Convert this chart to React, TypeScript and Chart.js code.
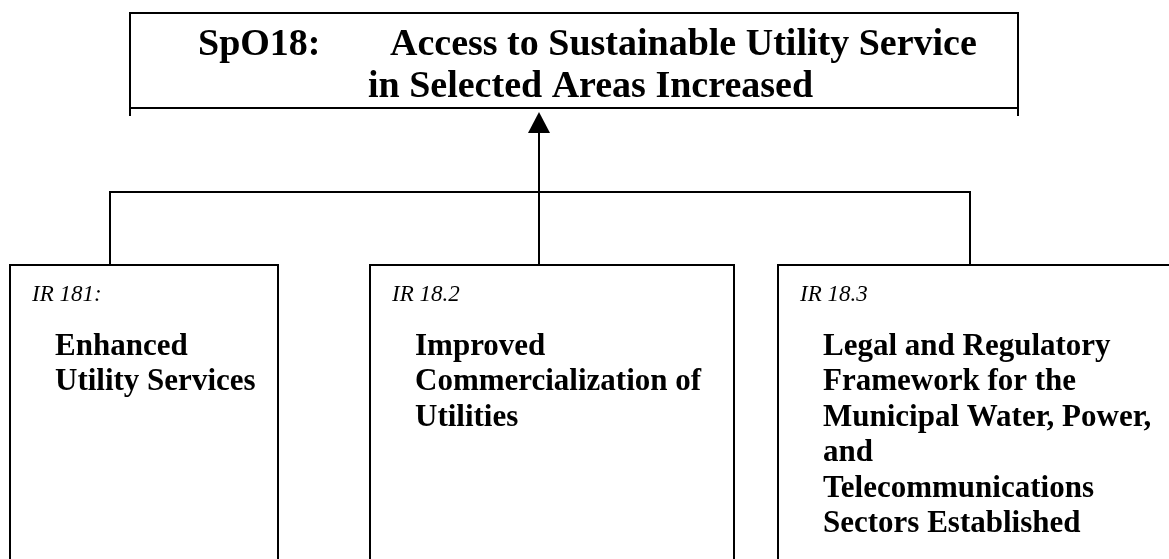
import React, { useEffect, useRef } from "react";
import { Chart, registerables } from "chart.js";

Chart.register(...registerables);

// ---- content ----
const titleCode = "SpO18:";
const titleLines = ["Access to Sustainable Utility Service", "in Selected Areas Increased"];
const irCodes = ["IR 181:", "IR 18.2", "IR 18.3"];
const irTitles = [
  ["Enhanced", "Utility Services"],
  ["Improved", "Commercialization of", "Utilities"],
  [
    "Legal and Regulatory",
    "Framework for the",
    "Municipal Water, Power,",
    "and",
    "Telecommunications",
    "Sectors Established",
  ],
];

// ---- layout (diagram units, mapped through the chart scales) ----
const W = 1169;
const H = 559;
const topBox = { l: 130, r: 1018, t: 13, b: 108, tail: 116 };
const titleCodeX = 198;
const titleLineX = [390, 368];
const titleBase = [55, 97];
const boxLeft = [10, 370, 778];
const boxRight = [278, 734, 1190];
const boxTop = 265;
const boxBottom = 620;
const codeOffset = 22;
const codeBase = 301;
const textOffset = 45;
const textBase = 355;
const lineStep = 35.4;
const busY = 192;
const dropX = [110, 970];
const arrowX = 539;
const arrowTip = 112;
const arrowBase = 133;
const arrowHalf = 11;

const SERIF = "'Liberation Serif', 'Times New Roman', serif";

const connectorSets = [
  [{ x: dropX[0], y: boxTop }, { x: dropX[0], y: busY }, { x: dropX[1], y: busY }, { x: dropX[1], y: boxTop }],
  [{ x: arrowX, y: boxTop }, { x: arrowX, y: arrowBase }],
];

const diagramPlugin = {
  id: "diagram",
  beforeDraw(chart: any) {
    const ctx = chart.ctx;
    ctx.save();
    ctx.fillStyle = "#ffffff";
    ctx.fillRect(0, 0, chart.width, chart.height);
    ctx.restore();
  },
  afterDraw(chart: any) {
    const ctx = chart.ctx as CanvasRenderingContext2D;
    const X = (v: number) => chart.scales.x.getPixelForValue(v);
    const Y = (v: number) => chart.scales.y.getPixelForValue(v);
    ctx.save();
    ctx.strokeStyle = "#000";
    ctx.fillStyle = "#000";
    ctx.lineWidth = 2;

    // top box
    ctx.beginPath();
    ctx.moveTo(X(topBox.l), Y(topBox.tail));
    ctx.lineTo(X(topBox.l), Y(topBox.t));
    ctx.lineTo(X(topBox.r), Y(topBox.t));
    ctx.lineTo(X(topBox.r), Y(topBox.tail));
    ctx.moveTo(X(topBox.l), Y(topBox.b));
    ctx.lineTo(X(topBox.r), Y(topBox.b));
    ctx.stroke();

    // arrow head
    ctx.beginPath();
    ctx.moveTo(X(arrowX), Y(arrowTip));
    ctx.lineTo(X(arrowX - arrowHalf), Y(arrowBase));
    ctx.lineTo(X(arrowX + arrowHalf), Y(arrowBase));
    ctx.closePath();
    ctx.fill();

    // boxes
    for (let i = 0; i < boxLeft.length; i++) {
      ctx.beginPath();
      ctx.moveTo(X(boxLeft[i]), Y(boxBottom));
      ctx.lineTo(X(boxLeft[i]), Y(boxTop));
      ctx.lineTo(X(boxRight[i]), Y(boxTop));
      ctx.lineTo(X(boxRight[i]), Y(boxBottom));
      ctx.stroke();
    }

    // title
    ctx.textBaseline = "alphabetic";
    ctx.textAlign = "left";
    ctx.font = `bold 38px ${SERIF}`;
    ctx.fillText(titleCode, X(titleCodeX), Y(titleBase[0]));
    titleLines.forEach((t, i) => ctx.fillText(t, X(titleLineX[i]), Y(titleBase[i])));

    // box texts
    for (let i = 0; i < irCodes.length; i++) {
      ctx.font = `italic 23px ${SERIF}`;
      ctx.fillText(irCodes[i], X(boxLeft[i] + codeOffset), Y(codeBase));
      ctx.font = `bold 31px ${SERIF}`;
      irTitles[i].forEach((t, j) => {
        ctx.fillText(t, X(boxLeft[i] + textOffset), Y(textBase + j * lineStep));
      });
    }
    ctx.restore();
  },
};

export default function App() {
  const ref = useRef<HTMLCanvasElement | null>(null);
  useEffect(() => {
    if (!ref.current) return;
    const chart = new Chart(ref.current, {
      type: "scatter",
      data: {
        datasets: connectorSets.map((d) => ({
          data: d,
          showLine: true,
          borderColor: "#000",
          borderWidth: 2,
          pointRadius: 0,
          fill: false,
          tension: 0,
        })),
      },
      options: {
        animation: false,
        responsive: true,
        maintainAspectRatio: false,
        layout: { padding: 0 },
        plugins: { legend: { display: false }, tooltip: { enabled: false } },
        scales: {
          x: { type: "linear", min: 0, max: W, display: false },
          y: { type: "linear", min: 0, max: H, reverse: true, display: false },
        },
      },
      plugins: [diagramPlugin],
    });
    return () => chart.destroy();
  }, []);
  return (
    <div style={{ position: "fixed", left: 0, top: 0, width: W, height: H, background: "#fff" }}>
      <canvas ref={ref} />
    </div>
  );
}
